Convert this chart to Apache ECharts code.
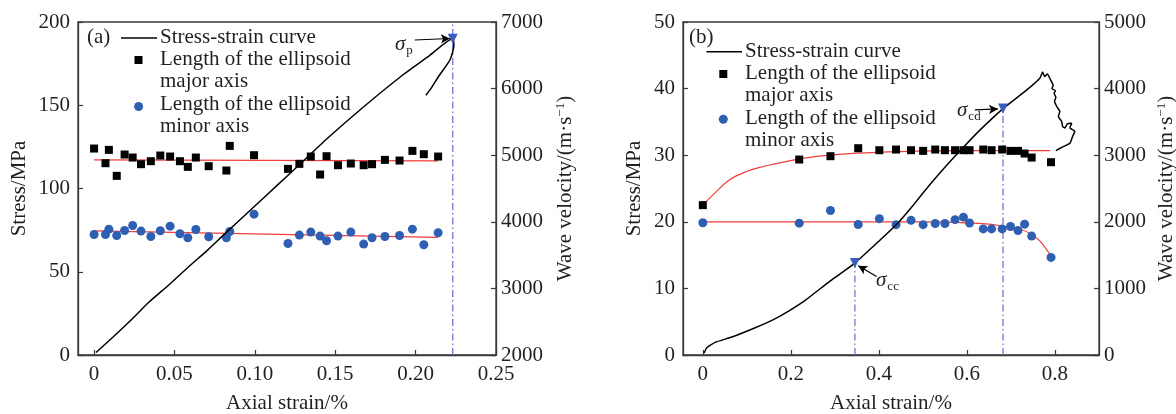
<!DOCTYPE html>
<html>
<head>
<meta charset="utf-8">
<script src="https://cdn.jsdelivr.net/npm/echarts@6/dist/echarts.min.js"></script>
<style>
  html, body { margin: 0; padding: 0; background: #fff; }
  #main { width: 1176px; height: 414px; }
</style>
</head>
<body>
<div id="main"></div>
<script>
// ---- panel (a) ----
var strainA = [0.0012, 0.012, 0.0235, 0.0339, 0.047, 0.0588, 0.0706, 0.0811, 0.0995, 0.114, 0.129, 0.145, 0.167, 0.1918, 0.2075, 0.2231, 0.2238, 0.2215, 0.2148, 0.2095, 0.2064];
var stressA = [1.5, 11, 21.5, 31.5, 42.5, 53, 63, 72.6, 89, 102, 115.5, 130, 148.5, 168, 179, 190, 186, 177.5, 168, 160, 156];

var axisXA = [0, 0.0071, 0.0092, 0.0141, 0.019, 0.024, 0.0292, 0.0353, 0.0412, 0.0473, 0.0534, 0.0583, 0.0633, 0.0713, 0.0823, 0.0844, 0.0995, 0.1206, 0.1277, 0.1348, 0.1406, 0.1446, 0.1517, 0.1597, 0.1677, 0.1729, 0.1809, 0.19, 0.198, 0.2051, 0.214];
var majorA = [5100, 4880, 5080, 4690, 5010, 4965, 4865, 4910, 4995, 4980, 4910, 4825, 4965, 4835, 4770, 5140, 5000, 4795, 4870, 4980, 4710, 4985, 4850, 4875, 4850, 4865, 4930, 4920, 5065, 5015, 4980];
var minorA = [3810, 3810, 3890, 3795, 3870, 3945, 3860, 3780, 3865, 3935, 3820, 3760, 3885, 3775, 3760, 3855, 4115, 3675, 3800, 3845, 3785, 3715, 3785, 3845, 3665, 3760, 3780, 3795, 3890, 3655, 3835];
var fitXA = [0, 0.214];
var fitMajorA = [4930, 4915];
var fitMinorA = [3865, 3765];
var peakA = [0.2231, 190];

var xTicksA = [0, 0.05, 0.10, 0.15, 0.20, 0.25];
var xLabelsA = ['0', '0.05', '0.10', '0.15', '0.20', '0.25'];

// ---- panel (b) ----
var strainB = [0.003, 0.009, 0.028, 0.066, 0.119, 0.157, 0.195, 0.2325, 0.289, 0.3455, 0.387, 0.44, 0.478, 0.516, 0.554, 0.592, 0.63, 0.682, 0.736, 0.766, 0.772, 0.7765, 0.7826, 0.79, 0.796, 0.793, 0.801, 0.798, 0.802, 0.799, 0.805, 0.811, 0.8076, 0.815, 0.8175, 0.8227, 0.828, 0.838, 0.834, 0.845, 0.84, 0.834, 0.819, 0.802];
var stressB = [0.3, 1.1, 1.9, 2.7, 4.1, 5.2, 6.6, 8.2, 11.1, 13.8, 16.3, 19.6, 22.5, 25.6, 28.5, 31.2, 33.8, 37.0, 39.8, 41.6, 42.5, 41.8, 42.2, 41.3, 40.5, 40.0, 39.7, 39.3, 38.7, 38.1, 37.2, 36.6, 35.8, 35.1, 34.3, 34.1, 34.7, 34.8, 34.1, 33.6, 32.8, 31.8, 31.3, 30.7];

var axisXB = [0, 0.219, 0.29, 0.353, 0.401, 0.439, 0.473, 0.5005, 0.528, 0.55, 0.573, 0.592, 0.606, 0.637, 0.656, 0.68, 0.699, 0.716, 0.731, 0.747, 0.791];
var majorB = [2250, 2935, 2985, 3105, 3075, 3085, 3075, 3065, 3085, 3075, 3075, 3075, 3075, 3085, 3075, 3085, 3065, 3065, 3025, 2965, 2895];
var minorB = [1985, 1980, 2170, 1960, 2047, 1957, 2022, 1957, 1975, 1975, 2032, 2070, 1982, 1893, 1893, 1893, 1930, 1870, 1965, 1785, 1465];
var fitMajXB = [0, 0.023, 0.061, 0.099, 0.137, 0.175, 0.22, 0.27, 0.35, 0.45, 0.55, 0.65, 0.789];
var fitMajorB = [2250, 2405, 2630, 2755, 2830, 2885, 2945, 2990, 3030, 3055, 3065, 3068, 3068];
var fitMinXB = [0, 0.3, 0.5, 0.6, 0.65, 0.68, 0.723, 0.747, 0.766, 0.791];
var fitMinorB = [2000, 2000, 1998, 1985, 1965, 1935, 1885, 1810, 1710, 1485];
var ccB = [0.3455, 13.8];
var cdB = [0.682, 37.0];

var xTicksB = [0, 0.2, 0.4, 0.6, 0.8];
var xLabelsB = ['0', '0.2', '0.4', '0.6', '0.8'];

function pairs(xs, ys) {
  var out = [];
  for (var i = 0; i < xs.length; i++) out.push([xs[i], ys[i]]);
  return out;
}

var FONT = 'Liberation Serif';
var TXT = '#231f20';
var BLUE = '#2f5fb3';
var RED = '#f03c3c';
var DASH = '#6b68cc';
var AXIS = '#3a3a3a';

function xAxisOf(grid, min, max, ticks, labels) {
  return {
    type: 'value', gridIndex: grid, min: min, max: max,
    name: 'Axial strain/%', nameLocation: 'middle', nameGap: 38,
    nameTextStyle: { fontFamily: FONT, fontSize: 21, color: TXT },
    splitLine: { show: false },
    axisLine: { onZero: false, lineStyle: { color: AXIS, width: 1.3 } },
    axisTick: { inside: true, length: 5, customValues: ticks, lineStyle: { color: AXIS, width: 1.2 } },
    axisLabel: {
      customValues: ticks, margin: 9, fontFamily: FONT, fontSize: 21, color: TXT,
      formatter: function (v) { var i = ticks.indexOf(v); return i >= 0 ? labels[i] : ''; }
    }
  };
}

function yAxisOf(grid, pos, min, max, step, name, gap, margin) {
  return {
    type: 'value', gridIndex: grid, position: pos, min: min, max: max, interval: step,
    name: name, nameLocation: 'middle', nameGap: gap, nameRotate: 90,
    nameTextStyle: {
      fontFamily: FONT, fontSize: 21, color: TXT,
      rich: { a: { fontFamily: FONT, fontSize: 21, color: TXT }, sup: { fontFamily: FONT, fontSize: 13, color: TXT, verticalAlign: 'top', padding: [0, 0, 9, 0] } }
    },
    splitLine: { show: false },
    axisLine: { show: true, onZero: false, lineStyle: { color: AXIS, width: 1.3 } },
    axisTick: { inside: true, length: 5, lineStyle: { color: AXIS, width: 1.2 } },
    axisLabel: { margin: margin, fontFamily: FONT, fontSize: 21, color: TXT, formatter: function (v) { return String(v); } }
  };
}

var waveName = '{a|Wave velocity/(m·s}{sup|−1}{a|)}';

function arrowLine(from, to) {
  return {
    silent: true, animation: false,
    symbol: ['none', 'arrow'], symbolSize: [7, 9],
    lineStyle: { color: '#000', width: 1.2, type: 'solid' },
    label: { show: false },
    data: [[{ coord: from }, { coord: to }]]
  };
}

var chart = echarts.init(document.getElementById('main'), null, { renderer: 'canvas' });

var option = {
  animation: false,
  backgroundColor: '#fff',
  grid: [
    { left: 78, top: 22, width: 418, height: 333, outerBoundsMode: 'none', containLabel: false, show: true, borderColor: AXIS, borderWidth: 1.3, backgroundColor: 'transparent' },
    { left: 683, top: 22, width: 416, height: 333, outerBoundsMode: 'none', containLabel: false, show: true, borderColor: AXIS, borderWidth: 1.3, backgroundColor: 'transparent' }
  ],
  xAxis: [
    xAxisOf(0, -0.01, 0.25, xTicksA, xLabelsA),
    xAxisOf(1, -0.045, 0.9, xTicksB, xLabelsB)
  ],
  yAxis: [
    yAxisOf(0, 'left', 0, 200, 50, 'Stress/MPa', 48, 8),
    yAxisOf(0, 'right', 2000, 7000, 1000, waveName, 58, 5),
    yAxisOf(1, 'left', 0, 50, 10, 'Stress/MPa', 38, 8),
    yAxisOf(1, 'right', 0, 5000, 1000, waveName, 56, 5)
  ],
  series: [
    // panel (a)
    { type: 'line', xAxisIndex: 0, yAxisIndex: 1, data: pairs(fitXA, fitMajorA), showSymbol: false, lineStyle: { color: RED, width: 1.2 }, z: 2 },
    { type: 'line', xAxisIndex: 0, yAxisIndex: 1, data: pairs(fitXA, fitMinorA), showSymbol: false, lineStyle: { color: RED, width: 1.2 }, z: 2 },
    { type: 'line', xAxisIndex: 0, yAxisIndex: 0, data: [[peakA[0], 0], [peakA[0], 200]], showSymbol: false, lineStyle: { color: DASH, width: 1.2, type: [7, 3, 1.5, 3] }, z: 1 },
    { type: 'scatter', xAxisIndex: 0, yAxisIndex: 1, data: pairs(axisXA, majorA), symbol: 'rect', symbolSize: 8, itemStyle: { color: '#000', opacity: 1 }, z: 3 },
    { type: 'scatter', xAxisIndex: 0, yAxisIndex: 1, data: pairs(axisXA, minorA), symbol: 'circle', symbolSize: 9, itemStyle: { color: BLUE, opacity: 1 }, z: 3 },
    { type: 'line', xAxisIndex: 0, yAxisIndex: 0, data: pairs(strainA, stressA), showSymbol: false, smooth: 0.2, lineStyle: { color: '#000', width: 1.5 }, z: 4 },
    { type: 'scatter', xAxisIndex: 0, yAxisIndex: 0, data: [peakA], symbol: 'triangle', symbolRotate: 180, symbolSize: 10, itemStyle: { color: '#3a5dbf', opacity: 1 }, z: 5,
      markLine: arrowLine([0.1995, 189.2], [0.2213, 190.1]) },
    // panel (b)
    { type: 'line', xAxisIndex: 1, yAxisIndex: 3, data: pairs(fitMajXB, fitMajorB), showSymbol: false, smooth: 0.4, lineStyle: { color: RED, width: 1.2 }, z: 2 },
    { type: 'line', xAxisIndex: 1, yAxisIndex: 3, data: pairs(fitMinXB, fitMinorB), showSymbol: false, smooth: 0.4, lineStyle: { color: RED, width: 1.2 }, z: 2 },
    { type: 'line', xAxisIndex: 1, yAxisIndex: 2, data: [[ccB[0], 0], ccB], showSymbol: false, lineStyle: { color: DASH, width: 1.2, type: [7, 3, 1.5, 3] }, z: 1 },
    { type: 'line', xAxisIndex: 1, yAxisIndex: 2, data: [[cdB[0], 0], cdB], showSymbol: false, lineStyle: { color: DASH, width: 1.2, type: [7, 3, 1.5, 3] }, z: 1 },
    { type: 'scatter', xAxisIndex: 1, yAxisIndex: 3, data: pairs(axisXB, majorB), symbol: 'rect', symbolSize: 8, itemStyle: { color: '#000', opacity: 1 }, z: 3 },
    { type: 'scatter', xAxisIndex: 1, yAxisIndex: 3, data: pairs(axisXB, minorB), symbol: 'circle', symbolSize: 9, itemStyle: { color: BLUE, opacity: 1 }, z: 3 },
    { type: 'line', xAxisIndex: 1, yAxisIndex: 2, data: pairs(strainB, stressB), showSymbol: false, smooth: 0.15, lineStyle: { color: '#000', width: 1.5 }, z: 4 },
    { type: 'scatter', xAxisIndex: 1, yAxisIndex: 2, data: [ccB, cdB], symbol: 'triangle', symbolRotate: 180, symbolSize: 10, itemStyle: { color: '#3a5dbf', opacity: 1 }, z: 5,
      markLine: arrowLine([0.618, 36.8], [0.6705, 36.95]) },
    { type: 'scatter', xAxisIndex: 1, yAxisIndex: 2, data: [], z: 5,
      markLine: arrowLine([0.3948, 11.8], [0.353, 13.4]) }
  ],
  graphic: [
    // legend (a)
    { type: 'text', left: 87, top: 27, style: { text: '(a)', font: '21px "Liberation Serif"', fill: TXT } },
    { type: 'line', shape: { x1: 121, y1: 38, x2: 157, y2: 38 }, style: { stroke: '#000', lineWidth: 1.6 } },
    { type: 'text', left: 160, top: 27, style: { text: 'Stress-strain curve', font: '21px "Liberation Serif"', fill: TXT } },
    { type: 'rect', shape: { x: 134.5, y: 56, width: 8, height: 8 }, style: { fill: '#000' } },
    { type: 'text', left: 160, top: 49, style: { text: 'Length of the ellipsoid', font: '21px "Liberation Serif"', fill: TXT } },
    { type: 'text', left: 160, top: 71, style: { text: 'major axis', font: '21px "Liberation Serif"', fill: TXT } },
    { type: 'circle', shape: { cx: 138.6, cy: 106.5, r: 4.5 }, style: { fill: BLUE } },
    { type: 'text', left: 160, top: 94, style: { text: 'Length of the ellipsoid', font: '21px "Liberation Serif"', fill: TXT } },
    { type: 'text', left: 160, top: 116, style: { text: 'minor axis', font: '21px "Liberation Serif"', fill: TXT } },
    { type: 'text', left: 395, top: 34, style: { rich: { s: { font: 'italic 21px "Liberation Serif"', fill: TXT }, b: { font: '13px "Liberation Serif"', fill: TXT, padding: [12, 0, 0, 1] } }, text: '{s|σ}{b|p}' } },
    // legend (b)
    { type: 'text', left: 689, top: 27, style: { text: '(b)', font: '21px "Liberation Serif"', fill: TXT } },
    { type: 'line', shape: { x1: 706.5, y1: 51.7, x2: 742, y2: 51.7 }, style: { stroke: '#000', lineWidth: 1.6 } },
    { type: 'text', left: 745, top: 41, style: { text: 'Stress-strain curve', font: '21px "Liberation Serif"', fill: TXT } },
    { type: 'rect', shape: { x: 719.3, y: 70, width: 8, height: 8 }, style: { fill: '#000' } },
    { type: 'text', left: 745, top: 63, style: { text: 'Length of the ellipsoid', font: '21px "Liberation Serif"', fill: TXT } },
    { type: 'text', left: 745, top: 85, style: { text: 'major axis', font: '21px "Liberation Serif"', fill: TXT } },
    { type: 'circle', shape: { cx: 723.3, cy: 119.3, r: 4.5 }, style: { fill: BLUE } },
    { type: 'text', left: 745, top: 108, style: { text: 'Length of the ellipsoid', font: '21px "Liberation Serif"', fill: TXT } },
    { type: 'text', left: 745, top: 130, style: { text: 'minor axis', font: '21px "Liberation Serif"', fill: TXT } },
    { type: 'text', left: 957, top: 100, style: { rich: { s: { font: 'italic 21px "Liberation Serif"', fill: TXT }, b: { font: '13px "Liberation Serif"', fill: TXT, padding: [12, 0, 0, 1] } }, text: '{s|σ}{b|cd}' } },
    { type: 'text', left: 876, top: 270, style: { rich: { s: { font: 'italic 21px "Liberation Serif"', fill: TXT }, b: { font: '13px "Liberation Serif"', fill: TXT, padding: [12, 0, 0, 1] } }, text: '{s|σ}{b|cc}' } }
  ]
};

chart.setOption(option);
</script>
</body>
</html>
